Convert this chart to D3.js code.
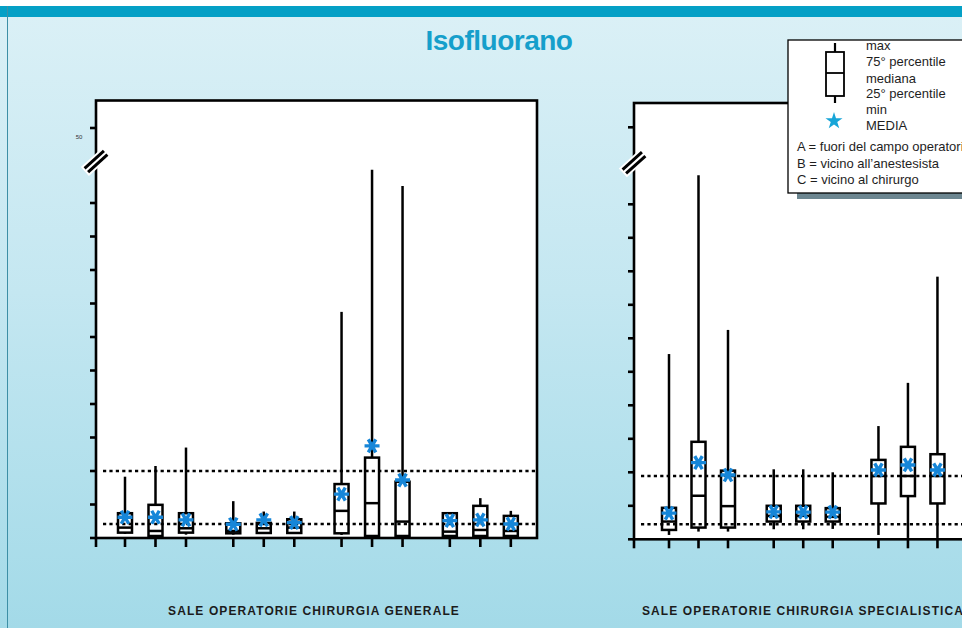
<!DOCTYPE html>
<html>
<head>
<meta charset="utf-8">
<script src="https://cdn.jsdelivr.net/npm/d3@7"></script>
<style>
  html, body { margin: 0; padding: 0; background: #ffffff; }
  svg { display: block; }
  text { font-family: "Liberation Sans", Arial, sans-serif; }
</style>
</head>
<body>
<svg id="chart" width="962" height="628"></svg>
<script>
// ---- data (ppm) ----
const positions = ["A", "B", "C"];   // sampling point within each operating room group

// Sale operatorie chirurgia generale: 4 groups x 3 positions
const genMax    = [1.83, 2.15, 2.70, 1.10, 0.79, 0.79, 6.75, 10.99, 10.51, 0.74, 1.19, 0.81];
const genQ3     = [0.74, 0.99, 0.74, 0.44, 0.45, 0.56, 1.61, 2.40, 1.68, 0.74, 0.96, 0.66];
const genMedian = [0.31, 0.21, 0.29, 0.21, 0.29, 0.31, 0.81, 1.04, 0.49, 0.19, 0.24, 0.21];
const genQ1     = [0.16, 0.06, 0.16, 0.14, 0.15, 0.15, 0.14, 0.06, 0.06, 0.06, 0.06, 0.06];
const genMin    = [0.12, 0.03, 0.10, 0.10, 0.12, 0.12, 0.09, 0.03, 0.03, 0.03, 0.03, 0.03];
const genMean   = [0.62, 0.62, 0.54, 0.41, 0.54, 0.46, 1.31, 2.75, 1.73, 0.52, 0.54, 0.42];
const genLimits = [2.0, 0.42];

// Sale operatorie chirurgia specialistica: 3 groups x 3 positions
const speMax    = [5.53, 10.87, 6.25, 2.09, 2.09, 2.00, 3.38, 4.67, 7.84];
const speQ3     = [0.94, 2.91, 2.05, 1.00, 1.00, 0.93, 2.37, 2.76, 2.54];
const speMedian = [0.53, 1.30, 0.99, 0.70, 0.70, 0.67, 1.89, 1.89, 1.89];
const speQ1     = [0.28, 0.35, 0.35, 0.53, 0.53, 0.53, 1.07, 1.29, 1.07];
const speMin    = [0.13, 0.23, 0.23, 0.30, 0.30, 0.31, 0.13, 0.04, 0.04];
const speMean   = [0.78, 2.29, 1.92, 0.82, 0.81, 0.81, 2.07, 2.22, 2.07];
const speLimits = [1.89, 0.45];

// y axis: unit ticks below the break, one tick above it
const yTicksLow = [0, 1, 2, 3, 4, 5, 6, 7, 8, 9, 10];
const yTickHigh = 50;
const yBreakAt = 11;

const title = "Isofluorano";
const genLabel = "SALE OPERATORIE CHIRURGIA GENERALE";
const speLabel = "SALE OPERATORIE CHIRURGIA SPECIALISTICA";
const legendLines = ["max", "75° percentile", "mediana", "25° percentile", "min", "MEDIA"];
const legendKey = ["A = fuori del campo operatorio", "B = vicino all\u2019anestesista", "C = vicino al chirurgo"];

// ---- drawing ----
const svg = d3.select("#chart");
const W = 962, H = 628;

const defs = svg.append("defs");
const bg = defs.append("linearGradient").attr("id", "bg")
  .attr("x1", 0).attr("y1", 0).attr("x2", 0).attr("y2", 1);
bg.append("stop").attr("offset", "0%").attr("stop-color", "#daf0f6");
bg.append("stop").attr("offset", "45%").attr("stop-color", "#c4e7f1");
bg.append("stop").attr("offset", "100%").attr("stop-color", "#a3dae8");

svg.append("rect").attr("x", 0).attr("y", 17).attr("width", W).attr("height", H - 17)
  .attr("fill", "url(#bg)");
svg.append("rect").attr("x", 0).attr("y", 6).attr("width", W).attr("height", 11)
  .attr("fill", "#04a0c6");
svg.append("line").attr("x1", 7.5).attr("x2", 7.5).attr("y1", 6).attr("y2", H)
  .attr("stroke", "#3d8fa6").attr("stroke-width", 1);

svg.append("text").attr("x", 499).attr("y", 50)
  .attr("text-anchor", "middle")
  .attr("font-size", 28).attr("font-weight", "bold").attr("letter-spacing", -0.5)
  .attr("fill", "#159fcb").text(title);

const groupGap = 3.55;   // slot distance between consecutive groups

function asterisk(g, cx, cy, r) {
  const path = d3.path();
  [0, 60, 120].forEach(a => {
    const t = a * Math.PI / 180;
    path.moveTo(cx - r * Math.cos(t), cy - r * Math.sin(t));
    path.lineTo(cx + r * Math.cos(t), cy + r * Math.sin(t));
  });
  g.append("path").attr("d", path.toString())
    .attr("stroke", "#1686d8").attr("stroke-width", 3.4).attr("stroke-linecap", "butt")
    .attr("fill", "none");
}

function panel(cfg) {
  const { left, right, top, bottom, slotStart, slotUnit, highGap, stats, limits, label, labelX, labelAnchor, highLabel } = cfg;
  const g = svg.append("g");
  const n = stats.max.length;

  const y = d3.scaleLinear()
    .domain([0, yBreakAt, yTickHigh])
    .range([bottom, bottom - yBreakAt * 33.5, bottom - yBreakAt * 33.5 - highGap]);

  const slot = i => Math.floor(i / positions.length) * groupGap + (i % positions.length);
  const x = d3.scaleLinear()
    .domain([0, 1])
    .range([left + slotStart, left + slotStart + slotUnit]);

  // frame
  g.append("rect").attr("x", left).attr("y", top)
    .attr("width", right - left).attr("height", bottom - top)
    .attr("fill", "#ffffff").attr("stroke", "#000").attr("stroke-width", 2.6);

  // y ticks
  const yt = yTicksLow.concat([yTickHigh]);
  g.selectAll(".ytick").data(yt).join("line")
    .attr("x1", left - 6).attr("x2", left)
    .attr("y1", d => y(d)).attr("y2", d => y(d))
    .attr("stroke", "#000").attr("stroke-width", 2.6);
  if (highLabel) {
    g.append("text").attr("x", left - 17).attr("y", y(yTickHigh) + 11)
      .attr("text-anchor", "middle").attr("font-size", 6).attr("fill", "#333")
      .text(yTickHigh);
  }

  // x ticks under the axis (one per box, plus the corner)
  const xt = d3.range(n).map(i => x(slot(i)));
  g.selectAll(".xtick").data([left].concat(xt)).join("line")
    .attr("x1", d => d).attr("x2", d => d)
    .attr("y1", bottom).attr("y2", bottom + 9)
    .attr("stroke", "#000").attr("stroke-width", 2.6);

  // axis break marks
  const by = y(yBreakAt) - 8;
  const bk = g.append("g").attr("transform", `translate(${left},${by}) rotate(-42)`);
  bk.append("rect").attr("x", -15).attr("y", -6).attr("width", 30).attr("height", 12).attr("fill", "#fff");
  [-2.6, 2.6].forEach(o => bk.append("line")
    .attr("x1", -13).attr("x2", 13).attr("y1", o).attr("y2", o)
    .attr("stroke", "#000").attr("stroke-width", 3));

  const bw = 14;
  d3.range(n).forEach(i => {
    const cx = x(slot(i));
    const bx = g.append("g");
    bx.append("line").attr("x1", cx).attr("x2", cx)
      .attr("y1", y(stats.max[i])).attr("y2", y(stats.q3[i]))
      .attr("stroke", "#000").attr("stroke-width", 2.5);
    bx.append("line").attr("x1", cx).attr("x2", cx)
      .attr("y1", y(stats.q1[i])).attr("y2", y(stats.min[i]))
      .attr("stroke", "#000").attr("stroke-width", 2.5);
    bx.append("rect").attr("x", cx - bw / 2).attr("y", y(stats.q3[i]))
      .attr("width", bw).attr("height", y(stats.q1[i]) - y(stats.q3[i]))
      .attr("fill", "#fff").attr("stroke", "#000").attr("stroke-width", 2.5);
    bx.append("line").attr("x1", cx - bw / 2).attr("x2", cx + bw / 2)
      .attr("y1", y(stats.median[i])).attr("y2", y(stats.median[i]))
      .attr("stroke", "#000").attr("stroke-width", 2.5);
  });

  // reference levels
  g.selectAll(".limit").data(limits).join("line")
    .attr("x1", left + 7).attr("x2", right)
    .attr("y1", d => y(d)).attr("y2", d => y(d))
    .attr("stroke", "#000").attr("stroke-width", 2.6).attr("stroke-dasharray", "3.2,3.2");

  // means
  d3.range(n).forEach(i => asterisk(g, x(slot(i)), y(stats.mean[i]), 7.5));

  svg.append("text").attr("x", labelX).attr("y", 615)
    .attr("text-anchor", labelAnchor)
    .attr("font-size", 12).attr("font-weight", "bold").attr("letter-spacing", 1.1)
    .attr("fill", "#1c1c1c").text(label);
}

panel({
  left: 96, right: 537, top: 100.5, bottom: 538,
  slotStart: 29, slotUnit: 30.5, highGap: 41.5,
  stats: { max: genMax, q3: genQ3, median: genMedian, q1: genQ1, min: genMin, mean: genMean },
  limits: genLimits, label: genLabel, labelX: 314, labelAnchor: "middle", highLabel: true
});

panel({
  left: 634, right: 1075, top: 103, bottom: 539.3,
  slotStart: 35, slotUnit: 29.5, highGap: 43.5,
  stats: { max: speMax, q3: speQ3, median: speMedian, q1: speQ1, min: speMin, mean: speMean },
  limits: speLimits, label: speLabel, labelX: 642, labelAnchor: "start", highLabel: false
});

// legend
const lg = svg.append("g");
lg.append("rect").attr("x", 797).attr("y", 193).attr("width", 200).attr("height", 6)
  .attr("fill", "#6c8690");
lg.append("rect").attr("x", 788).attr("y", 40).attr("width", 200).attr("height", 153)
  .attr("fill", "#fff").attr("stroke", "#000").attr("stroke-width", 1.3);
lg.append("line").attr("x1", 835).attr("x2", 835).attr("y1", 43).attr("y2", 103)
  .attr("stroke", "#000").attr("stroke-width", 2.2);
lg.append("rect").attr("x", 826).attr("y", 52).attr("width", 18).attr("height", 44)
  .attr("fill", "#fff").attr("stroke", "#000").attr("stroke-width", 1.8);
lg.append("line").attr("x1", 826).attr("x2", 844).attr("y1", 73).attr("y2", 73)
  .attr("stroke", "#000").attr("stroke-width", 1.8);
lg.append("path").attr("d", d3.symbol(d3.symbolStar, 90)())
  .attr("transform", "translate(834,121)").attr("fill", "#17a5d8");
const lineY = [49.5, 66, 82.5, 98, 113.5, 130];
lg.selectAll(".lt").data(legendLines).join("text")
  .attr("x", 866).attr("y", (d, i) => lineY[i])
  .attr("font-size", 13).attr("fill", "#1e1e1e").text(d => d);
const keyY = [151, 168, 184];
lg.selectAll(".lk").data(legendKey).join("text")
  .attr("x", 797).attr("y", (d, i) => keyY[i])
  .attr("font-size", 13).attr("fill", "#1e1e1e").text(d => d);
</script>
</body>
</html>
